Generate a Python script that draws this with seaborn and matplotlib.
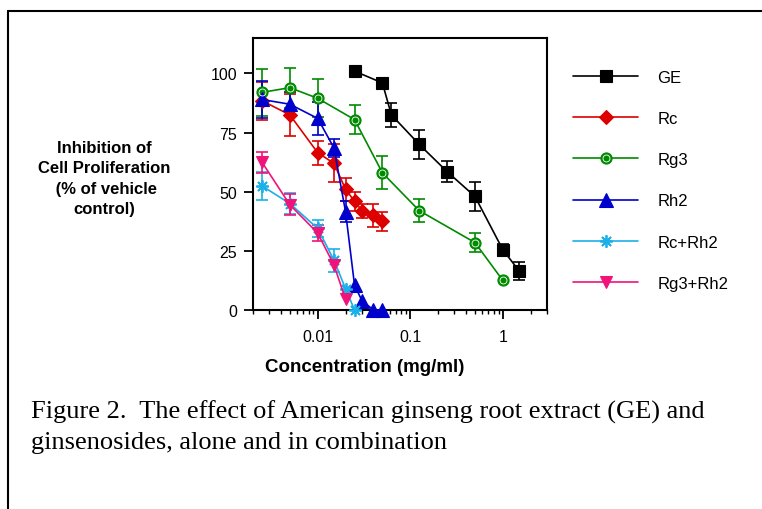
import matplotlib
matplotlib.use("Agg")
import matplotlib.pyplot as plt
from matplotlib.lines import Line2D
from matplotlib.ticker import FixedLocator, LogLocator, NullFormatter
from matplotlib.legend_handler import HandlerTuple
import seaborn as sns

# values: concentration (mg/ml) and inhibition (%)
ge_x = [0.025, 0.05, 0.0625, 0.125, 0.25, 0.5, 1.0, 1.5]
ge_y = [101, 96, 82.5, 70, 58.5, 48, 25.5, 16.5]
ge_err = [0, 0, 5, 6, 4.5, 6, 2.5, 4]

rc_x = [0.0025, 0.005, 0.01, 0.015, 0.02, 0.025, 0.03, 0.04, 0.05]
rc_y = [88.5, 82.5, 66.5, 62, 51, 46, 42, 40, 37.5]
rc_err = [8, 9, 5, 8, 5, 4, 3, 5, 4]

rg3_x = [0.0025, 0.005, 0.01, 0.025, 0.05, 0.125, 0.5, 1.0]
rg3_y = [92, 94, 89.5, 80.5, 58, 42, 28.5, 12.5]
rg3_err = [10, 8.5, 8, 6, 7, 5, 4, 0]

rh2_x = [0.0025, 0.005, 0.01, 0.015, 0.02, 0.025, 0.03, 0.04, 0.05]
rh2_y = [89, 87, 81, 68.5, 41.5, 10.5, 4, 0, 0]
rh2_err = [8, 5, 7, 4, 4.5, 0, 0, 0, 0]

rcrh2_x = [0.0025, 0.005, 0.01, 0.015, 0.02, 0.025]
rcrh2_y = [52.5, 45, 34.5, 21, 9, 0]
rcrh2_err = [6, 4.5, 3.5, 5, 0, 0]

rg3rh2_x = [0.0025, 0.005, 0.01, 0.015, 0.02]
rg3rh2_y = [62.5, 44.5, 32.5, 19, 4.5]
rg3rh2_err = [4.5, 4.5, 3.5, 0, 0]

names = ["GE", "Rc", "Rg3", "Rh2", "Rc+Rh2", "Rg3+Rh2"]
xs = [ge_x, rc_x, rg3_x, rh2_x, rcrh2_x, rg3rh2_x]
ys = [ge_y, rc_y, rg3_y, rh2_y, rcrh2_y, rg3rh2_y]
errs = [ge_err, rc_err, rg3_err, rh2_err, rcrh2_err, rg3rh2_err]

x_ticks = [0.01, 0.1, 1]
x_ticklabels = ["0.01", "0.1", "1"]
y_ticks = [0, 25, 50, 75, 100]

# marker styles for each series
styles = {
    "GE": dict(color="black", marker="s", ms=9),
    "Rc": dict(color="#dd0000", marker="D", ms=7.5),
    "Rg3": dict(color="#008a00", marker="o", ms=8),
    "Rh2": dict(color="#0000cc", marker="^", ms=10),
    "Rc+Rh2": dict(color="#1ab0e8", marker=(8, 2, 0), ms=9),
    "Rg3+Rh2": dict(color="#f0147a", marker="v", ms=8.5),
}

sns.set_theme(style="ticks")
plt.rcParams["font.family"] = ["Liberation Sans", "DejaVu Sans"]
plt.rcParams["text.color"] = "black"

fig = plt.figure(figsize=(7.62, 5.10), dpi=100)
ax = fig.add_axes([253 / 762, 1 - 311 / 510, 294 / 762, 272 / 510])

for name, x, y, err in zip(names, xs, ys, errs):
    st = styles[name]
    ex = [a for a, e in zip(x, err) if e > 0]
    ey = [b for b, e in zip(y, err) if e > 0]
    ee = [e for e in err if e > 0]
    ax.errorbar(ex, ey, yerr=ee, fmt="none", ecolor=st["color"], elinewidth=1.2,
                capsize=4, capthick=1.2, zorder=2, clip_on=False)
    mew = 1.3 if name == "Rc+Rh2" else 0.8
    sns.lineplot(x=x, y=y, ax=ax, color=st["color"], marker=st["marker"], markersize=st["ms"],
                 markerfacecolor=st["color"], markeredgecolor=st["color"], markeredgewidth=mew,
                 linewidth=1.2, zorder=3, clip_on=False, legend=False)
    if name == "Rg3":
        # white ring inside the green circles
        ax.plot(x, y, ls="none", marker="o", ms=5, mfc="none", mec="white", mew=0.6,
                zorder=4, clip_on=False)

ax.set_xscale("log")
ax.set_xlim(0.002, 3)
ax.set_ylim(0, 115)
ax.xaxis.set_major_locator(FixedLocator(x_ticks))
ax.set_xticklabels(x_ticklabels)
ax.xaxis.set_minor_locator(LogLocator(base=10, subs=[2, 3, 4, 5, 6, 7, 8, 9]))
ax.xaxis.set_minor_formatter(NullFormatter())
ax.set_yticks(y_ticks)
ax.set_xlabel("")
ax.set_ylabel("")
for sp in ax.spines.values():
    sp.set_visible(True)
    sp.set_linewidth(1.5)
    sp.set_color("black")
ax.tick_params(axis="both", which="major", direction="out", length=6.5, width=1.3,
               labelsize=11.5, colors="black")
ax.tick_params(axis="y", which="major", pad=5)
ax.tick_params(axis="x", which="major", pad=7)
ax.tick_params(axis="x", which="minor", direction="out", length=3, width=1.0, colors="black")

fig.text(365 / 762, 1 - 367 / 510, "Concentration (mg/ml)", ha="center", va="center",
         fontsize=13.5, fontweight="bold")
fig.text(104 / 762, 1 - 179 / 510, "Inhibition of\nCell Proliferation\n (% of vehicle\ncontrol)",
         ha="center", va="center", multialignment="center", fontsize=12, fontweight="bold",
         linespacing=1.45)

# legend on the right
handles = []
for name in names:
    st = styles[name]
    h = Line2D([], [], color=st["color"], marker=st["marker"], ms=st["ms"], mfc=st["color"],
               mec=st["color"], mew=1.3 if name == "Rc+Rh2" else 0.8, lw=1.2)
    if name == "Rg3":
        ring = Line2D([], [], ls="none", marker="o", ms=5, mfc="none", mec="white", mew=0.6)
        h = (h, ring)
    handles.append(h)
fig.legend(handles, names, loc="upper left", bbox_to_anchor=(573 / 762, 1 - 71 / 510),
           frameon=False, fontsize=12, handlelength=3.9, handletextpad=1.15,
           labelspacing=1.57, borderpad=0, borderaxespad=0,
           handler_map={tuple: HandlerTuple(ndivide=1)})

# caption
serif = ["Liberation Serif", "DejaVu Serif"]
fig.text(31 / 762, 1 - 419 / 510, "Figure 2.  The effect of American ginseng root extract (GE) and",
         fontsize=19, family=serif, va="baseline")
fig.text(31 / 762, 1 - 449 / 510, "ginsenosides, alone and in combination",
         fontsize=19, family=serif, va="baseline")

# page frame (left and top edges)
fig.add_artist(Line2D([8 / 762, 8 / 762], [0, 1 - 12 / 510], transform=fig.transFigure,
                      color="black", lw=1.5))
fig.add_artist(Line2D([8 / 762, 1], [1 - 12 / 510, 1 - 12 / 510], transform=fig.transFigure,
                      color="black", lw=1.5))

fig.savefig("out.png", dpi=100, facecolor="white")
